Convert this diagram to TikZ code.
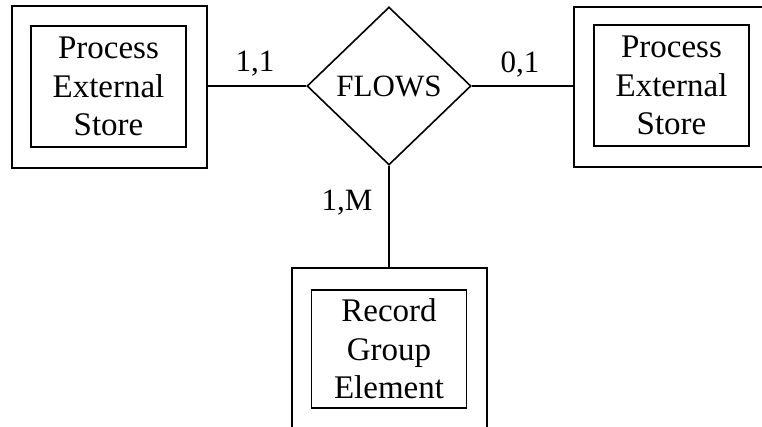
\documentclass[tikz,border=0pt]{standalone}
\usepackage{fontspec}
\setmainfont{Liberation Serif}
\usetikzlibrary{shapes.geometric}
\tikzset{
  ent/.style={draw, line width=1.8pt, minimum width=195pt, minimum height=162pt, inner sep=0pt},
  entin/.style={draw, line width=1.8pt, minimum width=155pt, minimum height=121pt, inner sep=0pt,
    align=center, font=\fontsize{33}{38.5}\selectfont},
  rel/.style={draw, diamond, line width=1.6pt, minimum width=164pt, minimum height=158pt, inner sep=0pt,
    font=\fontsize{31}{36}\selectfont},
  link/.style={line width=1.8pt},
  card/.style={font=\fontsize{31}{34}\selectfont, inner sep=0pt}
}
\begin{document}
\begin{tikzpicture}[x=1pt, y=-1pt]
  \useasboundingbox (0,0) rectangle (762,427);
  \clip (0,0) rectangle (762,427);
  % entities
  \node[ent] (lo) at (109.5,87) {};
  \node[entin] (li) at (108.5,86.5) {Process\\External\\Store};
  \node[ent, minimum height=160pt] (ro) at (671.5,87) {};
  \node[entin] (ri) at (671.5,85.5) {Process\\External\\Store};
  \node[ent, minimum height=180pt] (bo) at (389.5,358) {};
  \node[entin, minimum height=118pt] (bi) at (389,349) {Record\\Group\\Element};
  % relationship
  \node[rel] (fl) at (389,86) {FLOWS};
  % connectors
  \draw[link] (lo.east |- fl.west) -- (fl.west);
  \draw[link] (fl.east) -- (ro.west |- fl.east);
  \draw[link] (fl.south) -- (fl.south |- bo.north);
  % cardinalities
  \node[card] (c1) at (255,64) {1,1};
  \node[card] (c2) at (520,65) {0,1};
  \node[card] (c3) at (347,203) {1,M};
\end{tikzpicture}
\end{document}
